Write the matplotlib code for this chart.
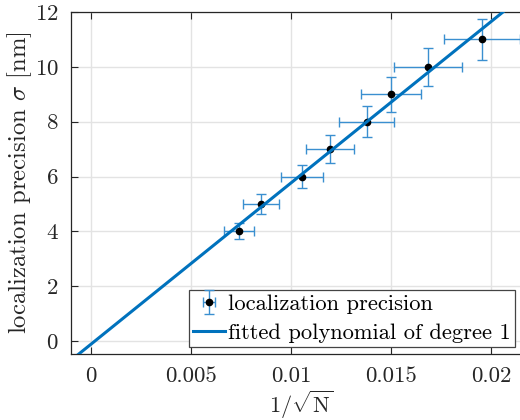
import matplotlib
matplotlib.use("Agg")
import matplotlib.pyplot as plt
from matplotlib.legend_handler import HandlerErrorbar
from matplotlib.container import ErrorbarContainer
import numpy as np

# data
x_vals = [0.00742, 0.0085, 0.01053, 0.01197, 0.01378, 0.01502, 0.01683, 0.01953]
y_vals = [4, 5, 6, 7, 8, 9, 10, 11]
x_err = [0.00075, 0.0009, 0.00105, 0.0012, 0.00138, 0.0015, 0.0017, 0.0019]
y_err = [0.29, 0.35, 0.42, 0.50, 0.56, 0.63, 0.69, 0.76]
fit_coef = [588.0, -0.112]  # slope, intercept
x_ticks = [0, 0.005, 0.01, 0.015, 0.02]
x_ticklabels = ["0", "0.005", "0.01", "0.015", "0.02"]
y_ticks = [0, 2, 4, 6, 8, 10, 12]
xlim = (-0.001, 0.022)
ylim = (-0.47, 12)

plt.rcParams['font.family'] = 'cmr10'
plt.rcParams['mathtext.fontset'] = 'cm'
plt.rcParams['axes.unicode_minus'] = False
plt.rcParams['axes.formatter.use_mathtext'] = True

fig = plt.figure(figsize=(5.2, 4.2), dpi=100)
W, H = 520, 420
ax = fig.add_axes([71 / W, (H - 354) / H, 460 / W, 342 / H])

blue = '#0072BD'
eb = ax.errorbar(x_vals, y_vals, xerr=x_err, yerr=y_err, fmt='o', color='black',
                 ecolor='#3a8fd0', elinewidth=1.0, capsize=3.5, capthick=1.0,
                 markersize=4.5, zorder=3, label='localization precision')
xl = np.array(xlim)
ln, = ax.plot(xl, fit_coef[0] * xl + fit_coef[1], color=blue, lw=2.2, zorder=4,
              label='fitted polynomial of degree 1')

ax.set_xlim(*xlim)
ax.set_ylim(*ylim)
ax.set_xticks(x_ticks)
ax.set_xticklabels(x_ticklabels)
ax.set_yticks(y_ticks)
ax.tick_params(direction='in', length=5, width=0.8, colors='#262626',
               labelsize=16.5, top=True, right=True, pad=9)
for s in ax.spines.values():
    s.set_color('#262626')
    s.set_linewidth(0.9)
ax.grid(True, color='#e3e3e3', lw=1.0)
ax.set_axisbelow(True)

ax.set_xlabel(r'$1/\sqrt{\mathrm{N}}$', fontsize=16, color='#262626')
ax.xaxis.set_label_coords(0.5, -0.1)
ax.set_ylabel(r'localization precision $\sigma$ [nm]', fontsize=17.8, color='#262626')
ax.yaxis.set_label_coords(-0.08, 0.5)

leg = ax.legend([eb, ln], ['localization precision', 'fitted polynomial of degree 1'],
                loc='lower right', bbox_to_anchor=(0.966, 0.02), fontsize=16.2,
                fancybox=False, framealpha=1, edgecolor='#444444',
                borderpad=0.2, labelspacing=0.4, handlelength=1.4,
                handletextpad=0.15, borderaxespad=0,
                handler_map={ErrorbarContainer: HandlerErrorbar(xerr_size=0.25, yerr_size=0.55)})
leg.get_frame().set_linewidth(0.9)

fig.savefig('out.png', dpi=100)
